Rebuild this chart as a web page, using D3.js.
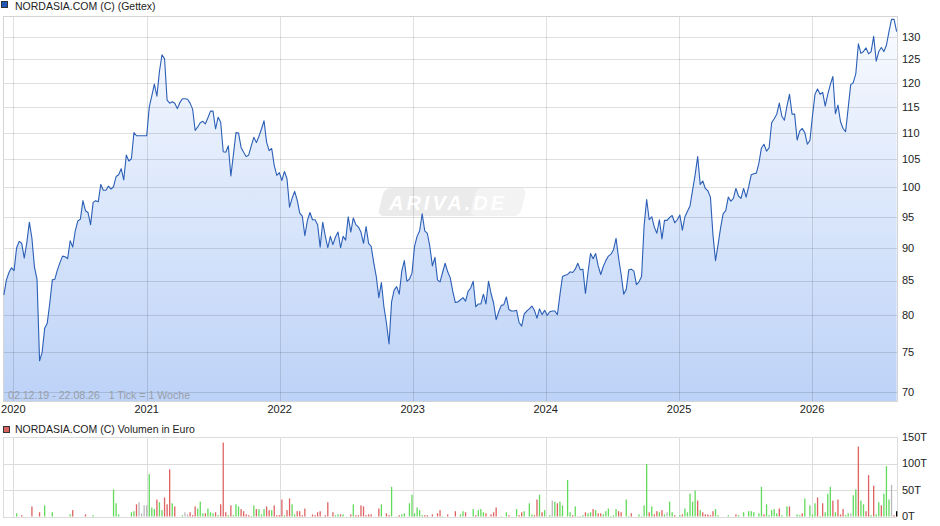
<!DOCTYPE html>
<html><head><meta charset="utf-8">
<script src="https://cdn.jsdelivr.net/npm/d3@7"></script>
<style>
body{margin:0;background:#fff;}
svg{display:block;font-family:"Liberation Sans",Arial,sans-serif;}
</style></head><body>
<svg id="c" width="940" height="526"></svg>
<script>
// ---------- DATA ----------
const seriesName = "NORDASIA.COM (C) (Gettex)";
const volumeName = "NORDASIA.COM (C) Volumen in Euro";
const rangeLabel = "02.12.19 - 22.08.26   1 Tick = 1 Woche";
const domainStart = "2019-12-02";
const domainEnd = "2026-08-22";
const firstWeek = "2019-12-06"; // weekly closes (1 Tick = 1 Woche)
const priceValues = [
82.9,85.1,86.2,86.9,86.5,90,91,90.7,88.4,90.8,94.1,91.5,87,85.2,73.9,75,78.2,78.9,81.7,85.1,
85.2,86.6,87.7,88.7,88.6,88.3,91.1,90.1,92.7,94.3,94.6,97.7,96,95.7,93.7,97.4,97.7,97.5,100.5,99.5,
99.5,100.2,99.7,100.1,101.9,102.2,103.3,101.3,105.8,104.7,105.1,110,109.4,109.4,109.4,109.4,109.4,115,117.3,119.7,
117.2,122.4,126,125.1,116.4,115.8,116.1,115.8,114.7,115.9,116.7,116.7,116.6,115.8,114.6,110.4,111.1,111.9,112.2,111.7,
112.9,114.2,114.2,110.7,113,112,106.4,106.3,107.5,102,105.9,110,109.9,107.2,106.3,105.5,105.8,107.5,109.1,108.1,
109.3,110.7,112.3,108.2,106.6,107,103.9,102.1,102.6,101.2,102.8,101.5,96.6,98.1,99.3,97.8,95.6,95.1,91.9,94.4,
95.7,94.5,94.5,93.7,90.1,94.1,91.9,90,91.8,90.5,91.7,92.5,90,91.8,91.2,95,92.5,94.8,93.7,93.3,
92.5,90.7,93.4,90.7,90.2,87.7,85.6,82.5,84.7,81.2,78.9,76.1,81.9,83.6,84.1,83,86.4,88,84.9,85.2,
86.1,90.2,91.8,92.7,95.5,92.7,92.3,90.2,87.2,88.5,85.1,84.8,86.2,87.6,86.3,85.4,83.4,81.8,81.9,82.2,
82.5,82,83.4,83.9,84.9,81.2,81.6,81.6,83,81.6,84.9,83.1,81.7,79.4,80.5,81.4,81.5,82.6,80.8,80.6,
80.6,80.7,79,78.5,80.2,80.6,80.9,81.3,80.7,79.6,80.9,80.1,80.7,80,80.5,80.6,80.6,80.1,82.9,85.6,
85.8,85.9,86.3,86.2,86.7,87.6,86.6,86.7,83.1,86.2,89.1,88.3,89.1,87.2,85.9,87.1,88,88.7,89,89.7,
91.5,88.4,85.9,83,83.7,86.6,86.7,86.4,84.4,84.8,85.6,93.5,97.9,94.5,95,93.3,92.3,94.5,91.4,94.4,
94.4,94.9,95.2,94,94.5,95.3,92.8,95,95.9,96.8,99.5,102.2,105.5,100.5,101.1,99.8,99.4,98.3,92,88,
90.5,93.2,95.5,96,98.3,97.6,98.1,99.8,98.5,98.1,99.8,98.3,100.1,102.2,102.4,102.5,104.3,107.1,107.8,106.5,
107.1,111.9,112.7,113.6,115.8,113.2,112.4,115.2,117.6,113.6,113.6,108.6,110.3,110.8,110,107.8,108.5,113.2,117.6,118.7,
117.6,118,115.2,117.6,119.6,121.3,113.7,115.4,112.1,110.8,110.2,114.8,119.6,120,121.9,128.4,126.3,126.7,127.5,126.2,
126.7,130.1,124.6,126.7,127.6,126.7,128.1,131.2,134,134,131.2
];
const yTicks = [70,75,80,85,90,95,100,105,110,115,120,125,130];
const yearTicks = ["2020","2021","2022","2023","2024","2025","2026"];
// volume (thousand euro), week index from firstWeek, direction g=up r=down n=unchanged
const volWeeks = [5,7,11,14,16,19,26,27,32,35,43,44,45,50,51,52,53,54,55,56,57,58,59,60,61,62,63,64,65,66,67,70,71,72,73,74,75,76,77,78,79,80,81,82,83,84,85,86,87,88,89,90,91,92,93,94,95,96,97,98,99,100,101,102,103,104,105,106,107,108,109,110,111,112,113,114,115,116,117,118,121,122,123,124,126,127,129,130,131,132,133,136,137,138,139,140,141,142,143,144,147,148,150,151,152,154,155,156,157,159,160,161,162,163,164,165,166,168,170,171,172,174,177,179,180,181,184,185,186,187,188,189,191,192,193,195,197,198,201,202,203,204,206,207,208,209,210,211,212,214,215,216,217,218,219,221,222,223,224,225,226,227,228,229,230,231,232,233,234,235,236,237,238,239,240,241,242,244,245,246,249,250,251,252,253,254,255,256,257,258,259,260,261,262,263,265,266,267,268,269,270,271,272,273,274,275,276,277,278,279,280,284,287,288,290,292,293,294,296,297,298,299,300,301,302,303,304,305,307,308,311,312,313,314,316,317,318,319,320,321,322,323,324,325,326,327,328,329,330,331,332,333,334,335,336,337,338,339,340,341,342,343,344,345,346,347,348,349,350];
const volValues = [6,2.5,19,8,21,8,4,12,4,2.5,51,25,4,8,10,23,27,6,21,21,80,17,14,32,27,12,36,23,89,25,19,2.5,8,4,8,2.5,19,15,28,6,6,15,8,6,8,2.5,23,139.5,8,2.5,21,2.5,23,19,14,10,4,2.5,1,21,14,14,4,14,19,12,12,21,2.5,2.5,32,2.5,12,34,23,4,10,10,2.5,15,4,2.5,8,10,2.5,27,8,2.5,4,4,4,4,23,2.5,2.5,21,19,2.5,4,4,15,23,6,2.5,56,0.6,2.5,4,6,25,41,6,17,12,2.5,2.5,2.5,4,6,12,1,4,10,4,10,8,14,2.5,12,14,8,6,4,8,17,0.6,8,2.5,14,2.5,8,10,25,4,2.5,32,41,8,12,2.5,30,28,25,28,21,69,8,2.5,19,0.6,0.6,2.5,8,6,8,14,12,6,6,4,10,15,1,2.5,14,10,8,32,1,6,4,1,21,99,8,19,4,10,8,12,4,8,28,8,2.5,2.5,4,15,8,43,28,49,30,12,8,4,4,2.5,10,14,2.5,2.5,4,2.5,8,10,10,8,6,56,4,23,2.5,12,14,6,15,2.5,19,19,4,2.5,6,34,21,4,25,36,1,25,8,43,56,30,8,32,4,14,2.5,6,6,40,51,132,30,23,10,78,2.5,58,4,27,21,43,95,32,60,2.5,10];
const volDir = ["g","r","r","r","g","g","g","r","r","g","g","g","g","g","g","r","n","n","n","n","g","g","g","r","g","g","r","r","r","g","r","g","n","n","r","r","r","g","g","g","r","g","g","g","r","g","r","r","r","g","r","g","g","g","r","r","r","r","g","g","r","g","g","g","r","r","g","r","r","r","r","g","r","r","g","g","r","r","r","r","r","r","r","r","r","r","r","g","g","r","g","r","g","r","r","r","r","r","r","r","r","g","r","r","g","g","r","g","g","g","g","g","g","g","g","r","r","r","r","r","g","r","r","g","g","r","g","r","g","g","g","r","r","r","r","g","g","r","g","r","r","g","g","g","r","r","g","r","g","g","n","g","r","g","g","g","g","r","g","r","r","g","r","g","g","r","g","r","r","g","g","g","g","g","g","r","r","g","g","r","g","g","g","g","r","g","r","r","g","r","g","n","g","g","r","g","r","g","g","g","g","g","r","g","r","r","r","r","r","g","g","g","r","g","g","g","g","g","g","g","r","g","g","g","g","g","r","g","g","r","g","g","r","g","g","g","g","r","g","r","g","g","g","r","g","r","r","r","g","g","n","g","g","r","g","g","r","r","g","r","g","g","r","g","g","g","n","r"];
const volTicks = [0,50,100,150];

// ---------- LAYOUT ----------
const L = 3, R = 897, T = 16, B = 401;
const VT = 437, VB = 516.5;
const svg = d3.select("#c");
const parse = d3.utcParse("%Y-%m-%d");
const t0 = parse(firstWeek);
const weekDate = i => d3.utcDay.offset(t0, 7 * i);
const prices = priceValues.map((v, i) => ({d: weekDate(i), v}));
const vols = volWeeks.map((w, i) => ({d: weekDate(w), v: volValues[i], c: volDir[i]}));

const x = d3.scaleUtc().domain([parse(domainStart), parse(domainEnd)]).range([2.4, R]);
const y = d3.scaleLog().domain([68.9, 134.8]).range([B, T]);
const yv = d3.scaleLinear().domain([0, 150]).range([VB, VT]);
const yearDates = yearTicks.map(s => parse(s + "-01-01"));

const defs = svg.append("defs");
const grad = defs.append("linearGradient").attr("id", "fillg")
  .attr("gradientUnits", "userSpaceOnUse").attr("x1", 0).attr("x2", 0).attr("y1", T).attr("y2", B);
grad.append("stop").attr("offset", 0).attr("stop-color", "#f9fbff");
grad.append("stop").attr("offset", 1).attr("stop-color", "#bcd2f7");

// legends
svg.append("rect").attr("x", 1.5).attr("y", 1.5).attr("width", 6).attr("height", 6)
  .attr("fill", "#2256b8").attr("stroke", "#333").attr("stroke-width", 1);
svg.append("text").attr("x", 15).attr("y", 9.5).attr("font-size", 10.5).attr("fill", "#222").text(seriesName);
svg.append("rect").attr("x", 3.5).attr("y", 426.5).attr("width", 6).attr("height", 6)
  .attr("fill", "#d9645f").attr("stroke", "#333").attr("stroke-width", 1);
svg.append("text").attr("x", 15).attr("y", 433).attr("font-size", 10.5).attr("fill", "#222").text(volumeName);

// watermark
const wm = svg.append("g").attr("transform", "translate(451,202)");
wm.append("rect").attr("x", -70).attr("y", -14).attr("width", 142).attr("height", 28).attr("rx", 6)
  .attr("transform", "skewX(-14)").attr("fill", "#ebebeb");
wm.append("rect").attr("x", 22).attr("y", -14).attr("width", 50).attr("height", 28).attr("rx", 6)
  .attr("transform", "skewX(-14)").attr("fill", "#f3f3f3");
wm.append("text").attr("x", -3).attr("y", 7.5).attr("text-anchor", "middle")
  .attr("font-size", 20).attr("font-weight", "bold").attr("font-style", "italic")
  .attr("letter-spacing", 3).attr("fill", "#ffffff").text("ARIVA.DE");

// area + line
const area = d3.area().x(d => x(d.d)).y0(B).y1(d => y(d.v));
const line = d3.line().x(d => x(d.d)).y(d => y(d.v));
svg.append("path").datum(prices).attr("d", area).attr("fill", "url(#fillg)");

// grid (main)
const g1 = svg.append("g").attr("stroke", "#000").attr("stroke-opacity", 0.12).attr("shape-rendering", "crispEdges");
yTicks.forEach(t => g1.append("line").attr("x1", L).attr("x2", R).attr("y1", Math.round(y(t)) + 0.5).attr("y2", Math.round(y(t)) + 0.5));
yearDates.forEach(d => g1.append("line").attr("y1", T).attr("y2", B).attr("x1", Math.round(x(d)) + 0.5).attr("x2", Math.round(x(d)) + 0.5));
svg.append("rect").attr("x", L + 0.5).attr("y", T + 0.5).attr("width", R - L).attr("height", B - T)
  .attr("fill", "none").attr("stroke", "#d4d4d4").attr("shape-rendering", "crispEdges");

svg.append("path").datum(prices).attr("d", line).attr("fill", "none")
  .attr("stroke", "#2b5fb6").attr("stroke-width", 1.1).attr("stroke-linejoin", "round");

svg.append("text").attr("x", 8).attr("y", 398.5).attr("font-size", 10.6).attr("fill", "#9a9fa8")
  .style("white-space", "pre").text(rangeLabel);

// y axis labels (right)
svg.append("g").selectAll("text").data(yTicks).join("text")
  .attr("x", 902).attr("y", d => y(d)).attr("dy", "0.36em").attr("font-size", 11).attr("fill", "#222")
  .text(d => d);
// year labels
svg.append("g").selectAll("text").data(yearDates).join("text")
  .attr("x", d => x(d)).attr("y", 413).attr("text-anchor", "middle").attr("font-size", 11).attr("fill", "#222")
  .text((d, i) => yearTicks[i]);

// volume panel
const g2 = svg.append("g").attr("stroke", "#dcdcdc").attr("shape-rendering", "crispEdges");
volTicks.forEach(t => g2.append("line").attr("x1", L).attr("x2", R).attr("y1", Math.round(yv(t)) + 0.5).attr("y2", Math.round(yv(t)) + 0.5));
yearDates.forEach(d => g2.append("line").attr("y1", VT).attr("y2", VB).attr("x1", Math.round(x(d)) + 0.5).attr("x2", Math.round(x(d)) + 0.5));
g2.append("line").attr("x1", L + 0.5).attr("x2", L + 0.5).attr("y1", VT).attr("y2", VB);
g2.append("line").attr("x1", R + 0.5).attr("x2", R + 0.5).attr("y1", VT).attr("y2", VB);

const colors = {g: "#62da5c", r: "#de6262", n: "#b9b9b9"};
svg.append("g").selectAll("rect").data(vols).join("rect")
  .attr("x", d => x(d.d) - 0.65).attr("width", 1.3)
  .attr("y", d => yv(d.v)).attr("height", d => yv(0) - yv(d.v))
  .attr("fill", d => colors[d.c]);

svg.append("g").selectAll("text").data(volTicks).join("text")
  .attr("x", 902).attr("y", d => yv(d)).attr("dy", "0.36em").attr("font-size", 11).attr("fill", "#222")
  .text(d => d + "T");
</script>
</body></html>
